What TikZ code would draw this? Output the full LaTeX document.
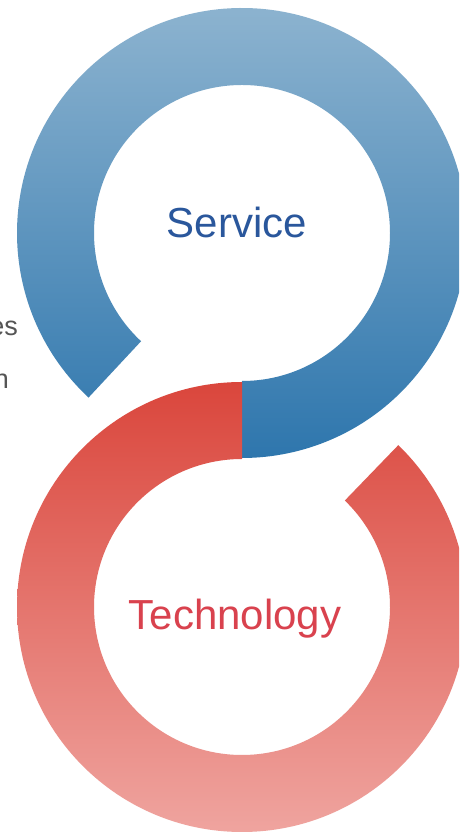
\documentclass[tikz,border=0pt]{standalone}
\usepackage{fontspec}
\setmainfont{Liberation Sans}
\usetikzlibrary{calc}
\definecolor{bluetop}{HTML}{91B6D1}
\definecolor{bluebot}{HTML}{2E76AD}
\definecolor{redtop}{HTML}{DA463C}
\definecolor{redbot}{HTML}{EFA49F}
\definecolor{servicecol}{HTML}{2A579C}
\definecolor{techcol}{HTML}{D9424E}
\definecolor{graytext}{HTML}{555555}
\tikzset{
  ringlabel/.style={font=\fontsize{42}{50}\selectfont, inner sep=0pt, anchor=base},
  sidetext/.style={font=\fontsize{27}{34}\selectfont, text=graytext, inner sep=0pt, anchor=base east}
}
\begin{document}
\begin{tikzpicture}[x=1pt,y=1pt]
\useasboundingbox (0,0) rectangle (459,832);
\clip (0,0) rectangle (459,832);
\fill[white] (0,0) rectangle (459,832);
\coordinate (T) at (242,599);
\coordinate (B) at (242,225);
% blue ring (Service)
\shade[top color=bluetop, bottom color=bluebot]
  ($(T)+(227:225)$) arc[start angle=227, end angle=-90, radius=225]
  -- ($(T)+(-90:148)$) arc[start angle=-90, end angle=227, radius=148] -- cycle;
% red ring (Technology)
\shade[top color=redtop, bottom color=redbot]
  ($(B)+(90:225)$) arc[start angle=90, end angle=406, radius=225]
  -- ($(B)+(406:148)$) arc[start angle=406, end angle=90, radius=148] -- cycle;
\node[ringlabel, text=servicecol] (service) at (237,594) {Service};
\node[ringlabel, text=techcol] (tech) at (235,202) {Technology};
\node[sidetext] (es) at (18,496) {es};
\node[sidetext] (n) at (9,443) {n};
\end{tikzpicture}
\end{document}
